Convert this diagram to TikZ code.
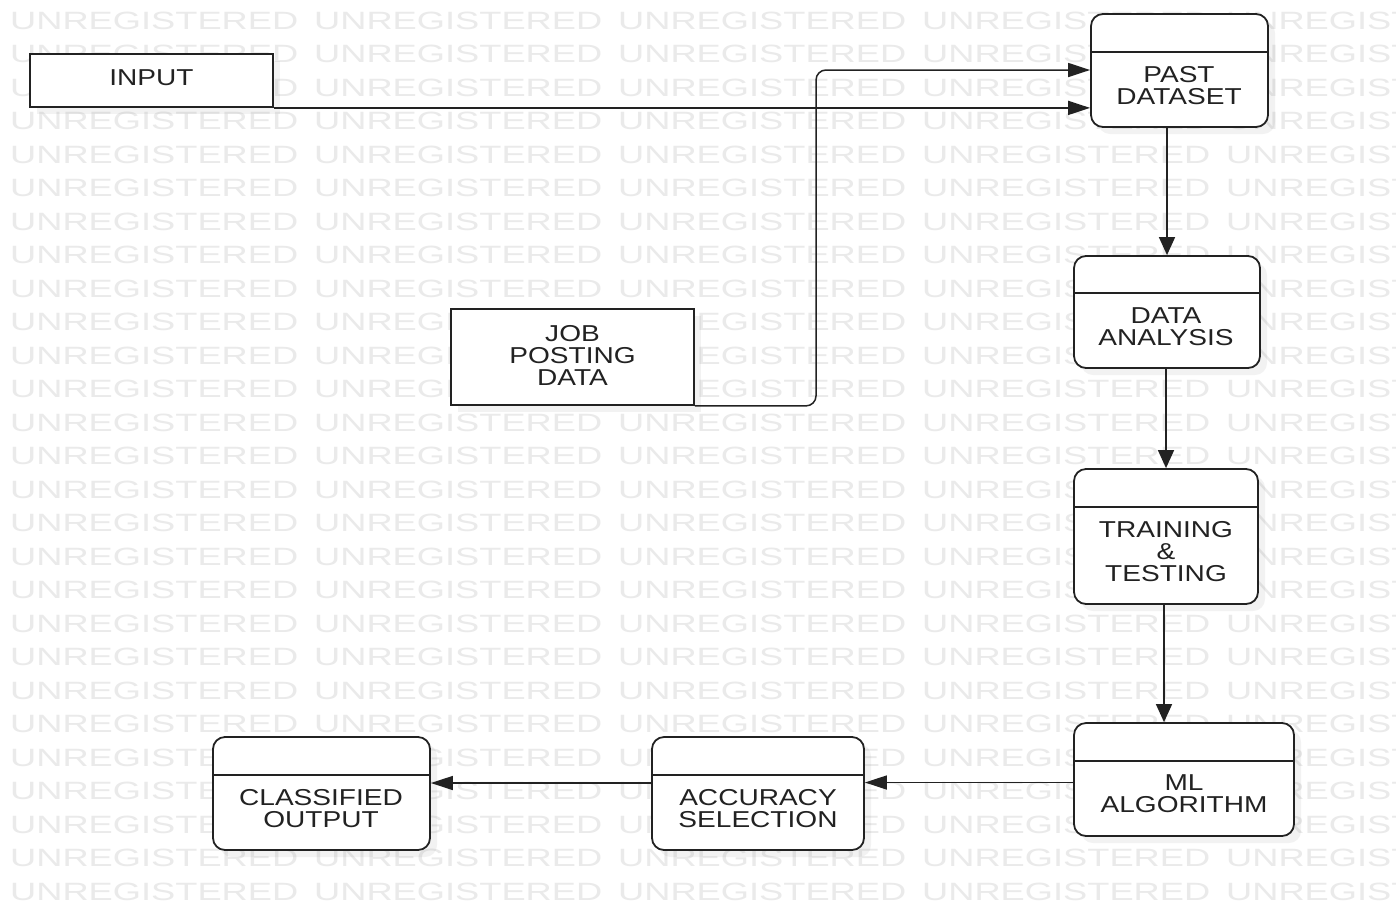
\documentclass[tikz,border=0pt]{standalone}
\usepackage{fontspec}
\setmainfont{Liberation Sans}[FakeStretch=1.22]
\newfontfamily\wmfont{Liberation Sans}[FakeStretch=1.45]
\usetikzlibrary{arrows.meta,shadows,calc}
\definecolor{ink}{HTML}{222222}
\definecolor{wmcol}{HTML}{EAEAEA}
\tikzset{
  shd/.style={drop shadow={opacity=0.10, shadow xshift=7pt, shadow yshift=-7pt}},
  box/.style={draw=ink, line width=1.8pt, fill=white, rounded corners=12pt, shd, inner sep=0},
  sqbox/.style={draw=ink, line width=1.8pt, fill=white, shd, inner sep=0},
  divline/.style={draw=ink, line width=1.8pt},
  lbl/.style={text=ink, align=center, font=\fontsize{23}{22}\selectfont, inner sep=0},
  harr/.style={draw=ink, line width=1.5pt, -{Triangle[length=22pt,width=14pt]}},
  varr/.style={draw=ink, line width=1.5pt, -{Triangle[length=18pt,width=16pt]}},
  wmtext/.style={text=wmcol, font=\wmfont\fontsize{25}{25}\selectfont, anchor=west, inner sep=0},
}
\begin{document}
\begin{tikzpicture}[x=1pt,y=-1pt]
\useasboundingbox (0,0) rectangle (1396,903);
\fill[white] (0,0) rectangle (1396,903);
\begin{scope}
\clip (0,0) rectangle (1396,903);
\foreach \r in {0,...,26}{
  \foreach \c in {0,...,4}{
    \node[wmtext] (wm-\r-\c) at ({10+304*\c},{20.5+33.5*\r}) {UNREGISTERED};
  }
}
\end{scope}

% square boxes
\node[sqbox, minimum width=243pt, minimum height=53pt] (input) at (151.5,80.5) {};
\node[lbl] (inputT) at (151.5,78) {INPUT};
\node[sqbox, minimum width=243pt, minimum height=96pt] (job) at (572.5,357) {};
\node[lbl] (jobT) at (572.5,355) {JOB\\POSTING\\DATA};

% rounded boxes
\node[box, minimum width=177pt, minimum height=113pt] (past) at (1179.5,70.5) {};
\draw[divline] (past.west |- 0,52) -- (past.east |- 0,52);
\node[lbl] (pastT) at (1179,86) {PAST\\DATASET};

\node[box, minimum width=186pt, minimum height=112pt] (da) at (1167,312) {};
\draw[divline] (da.west |- 0,293) -- (da.east |- 0,293);
\node[lbl] (daT) at (1166,327) {DATA\\ANALYSIS};

\node[box, minimum width=184pt, minimum height=135pt] (tt) at (1166,536.5) {};
\draw[divline] (tt.west |- 0,507) -- (tt.east |- 0,507);
\node[lbl] (ttT) at (1166,552) {TRAINING\\\&\\TESTING};

\node[box, minimum width=220pt, minimum height=113pt] (ml) at (1184,779.5) {};
\draw[divline] (ml.west |- 0,761) -- (ml.east |- 0,761);
\node[lbl] (mlT) at (1184,794) {ML\\ALGORITHM};

\node[box, minimum width=212pt, minimum height=113pt] (acc) at (758,793.5) {};
\draw[divline] (acc.west |- 0,775) -- (acc.east |- 0,775);
\node[lbl] (accT) at (758,809) {ACCURACY\\SELECTION};

\node[box, minimum width=217pt, minimum height=113pt] (cls) at (321.5,793.5) {};
\draw[divline] (cls.west |- 0,775) -- (cls.east |- 0,775);
\node[lbl] (clsT) at (321,809) {CLASSIFIED\\OUTPUT};

% connectors
\draw[harr] (input.south east) -- (input.south east -| past.west);
\coordinate (bend) at (816,70);
\draw[harr, rounded corners=10pt] (job.south east) -| (bend) -- (bend -| past.west);
\draw[varr] (da.north |- past.south) -- (da.north);
\draw[varr] (tt.north |- da.south) -- (tt.north);
\draw[varr] ([xshift=-2pt]tt.south) -- ([xshift=-2pt]tt.south |- ml.north);
\draw[harr] ([yshift=-3pt]ml.west) -- ([yshift=-3pt]ml.west -| acc.east);
\draw[harr] ([yshift=10.5pt]acc.west) -- ([yshift=10.5pt]acc.west -| cls.east);
\end{tikzpicture}
\end{document}
